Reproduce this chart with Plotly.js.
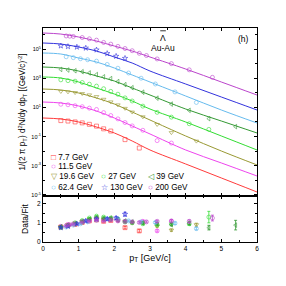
<!DOCTYPE html>
<html>
<head>
<meta charset="utf-8">
<script src="https://cdn.plot.ly/plotly-3.0.1.min.js"></script>
<style>html,body{margin:0;padding:0;background:#fff;}#chart{width:286px;height:286px;}</style>
</head>
<body>
<div id="chart"></div>
<script>
// ---- data ----
const energyNames = ['7.7 GeV','11.5 GeV','19.6 GeV','27 GeV','39 GeV','62.4 GeV','130 GeV','200 GeV'];
const colors = ['#ff3b3b','#ee44ee','#999933','#33dd33','#339933','#66bbee','#3333dd','#bb44cc'];
const symbols = ['square-open','circle-open','triangle-down-open','circle-open','triangle-left-open','circle-open','star-open','circle-open'];
const legendGlyphs = ['\u25A1','\u25CB','\u25BD','\u25CB','\u25C1','\u25CB','\u2606','\u25CB'];
const yTickVals = [1e-5, 1e-3, 1e-1, 1e1, 1e3, 1e5];
const yTickText = ['10<sup>-5</sup>','10<sup>-3</sup>','10<sup>-1</sup>','10<sup>1</sup>','10<sup>3</sup>','10<sup>5</sup>'];

// fit curves (read at these pT)
const pTFit = [0, 0.5, 1, 1.5, 2, 2.5, 3, 4, 5, 6];
const fit77  = [1.88, 1.60, 1.0, 0.455, 0.177, 0.050, 0.0121, 1.33e-3, 1.46e-4, 1.60e-5];
const fit115 = [23.4, 20.0, 12.5, 5.66, 1.88, 0.532, 0.151, 0.0121, 1.56e-3, 2.0e-4];
const fit196 = [182, 156, 96.8, 44.1, 17.1, 4.84, 1.37, 0.110, 0.0103, 1.14e-3];
const fit27  = [1210, 1030, 550, 213, 82.8, 27.4, 7.76, 1.0, 0.110, 0.0121];
const fit39  = [5850, 5000, 3110, 1420, 643, 213, 70.6, 7.76, 1.17, 0.177];
const fit624 = [5.32e4, 4.55e4, 2.42e4, 1.29e4, 5.00e3, 1.66e3, 550, 60.4, 6.64, 0.855];
const fit130 = [2.58e5, 2.20e5, 1.37e5, 7.29e4, 2.83e4, 1.10e4, 3110, 401, 51.5, 6.64];
const fit200 = [1.25e6, 1.06e6, 6.64e5, 3.53e5, 1.60e5, 7.29e4, 2.83e4, 4270, 550, 70.6];

// spectra points
const pt77   = [0.5,0.7,0.9,1.1,1.3,1.5,1.7,1.9,2.3,2.7];
const spec77 = [1.25,1.16,1.01,0.87,0.69,0.52,0.34,0.24,0.062,0.0164];
const rat77  = [0.78,0.87,0.92,1.02,1.1,1.15,1.08,1.12,0.75,0.58];
const err77  = [0.04,0.04,0.04,0.04,0.04,0.05,0.05,0.05,0.06,0.07];

const pt115   = [0.5,0.7,0.9,1.1,1.3,1.5,1.7,1.9,2.1,2.3,2.5,2.8,3.2,3.6];
const spec115 = [16.4,15.2,13.0,11.2,8.9,7.2,4.4,2.77,1.63,0.92,0.54,0.27,0.053,0.036];
const rat115  = [0.82,0.92,0.95,1.05,1.15,1.28,1.22,1.18,1.12,1.05,1.02,1.08,0.58,1.08];
const err115  = [0.03,0.03,0.03,0.03,0.04,0.04,0.04,0.04,0.05,0.05,0.05,0.06,0.06,0.08];

const pt196   = [0.5,0.7,0.9,1.1,1.3,1.5,1.7,1.9,2.1,2.3,2.5,2.8,3.2,3.6,4.3];
const spec196 = [124,116,104,89,72,55,36,23.8,14.9,8.6,4.8,2.27,0.68,0.187,0.049];
const rat196  = [0.8,0.9,0.98,1.08,1.2,1.25,1.2,1.15,1.12,1.08,1.0,1.0,0.82,0.62,0.9];
const err196  = [0.03,0.03,0.03,0.03,0.03,0.04,0.04,0.04,0.04,0.04,0.05,0.05,0.05,0.06,0.08];

const pt27   = [0.5,0.7,0.9,1.1,1.3,1.5,1.7,1.9,2.1,2.3,2.5,2.8,3.2,3.6,4.1,4.65];
const spec27 = [774,682,624,509,389,288,190,125,80,44.8,27.4,12.2,4.6,2.16,0.76,0.31];
const rat27  = [0.75,0.85,1.0,1.12,1.25,1.35,1.3,1.25,1.2,1.05,1.0,0.95,0.9,0.95,0.95,1.3];
const err27  = [0.03,0.03,0.03,0.03,0.03,0.04,0.04,0.04,0.04,0.04,0.05,0.05,0.05,0.06,0.08,0.3];

const pt39   = [0.5,0.7,0.9,1.1,1.3,1.5,1.7,1.9,2.1,2.3,2.5,2.8,3.2,3.6,4.1,4.65,5.4];
const spec39 = [4000,3640,3250,2790,2290,1770,1240,942,593,365,224,110,43,16.9,6.3,1.70,0.48];
const rat39  = [0.8,0.88,0.95,1.05,1.18,1.25,1.2,1.25,1.15,1.1,1.05,1.0,0.95,0.9,0.98,0.75,0.88];
const err39  = [0.03,0.03,0.03,0.03,0.03,0.03,0.04,0.04,0.04,0.04,0.04,0.05,0.05,0.06,0.07,0.12,0.25];

const pt624   = [0.65,0.85,1.05,1.25,1.5,1.8,2.1,2.4,2.75,3.15,3.7,4.3];
const spec624 = [29400,25700,21600,18500,14800,8750,4810,2270,1000,403,115,21.8];
const rat624  = [0.78,0.88,0.95,1.05,1.15,1.2,1.2,1.1,1.05,1.02,0.98,0.7];
const err624  = [0.03,0.03,0.03,0.03,0.04,0.04,0.04,0.04,0.05,0.05,0.06,0.07];

const pt130   = [0.5,0.7,0.95,1.2,1.5,1.8,2.05,2.3];
const spec130 = [1.65e5,1.49e5,1.37e5,1.17e5,8.75e4,4.95e4,3.22e4,2.32e4];
const rat130  = [0.75,0.82,0.95,1.1,1.2,1.2,1.25,1.45];
const err130  = [0.04,0.04,0.04,0.05,0.05,0.06,0.07,0.1];

const pt200   = [0.65,0.75,0.85,1.1,1.3,1.5,1.7,1.9,2.1,2.3,2.5,2.7,2.9,3.2,3.6,4.1,4.75];
const spec200 = [7.87e5,7.57e5,7.28e5,6.14e5,5.0e5,4.06e5,2.83e5,2.16e5,1.51e5,1.08e5,7.66e4,5.11e4,3.59e4,2.09e4,1.0e4,3750,1150];
const rat200  = [0.85,0.9,0.95,1.05,1.1,1.15,1.1,1.15,1.1,1.08,1.05,1.02,1.05,1.08,1.1,1.08,1.25];
const err200  = [0.03,0.03,0.03,0.03,0.03,0.03,0.03,0.04,0.04,0.04,0.04,0.04,0.05,0.05,0.06,0.07,0.15];

const allFits = [fit77,fit115,fit196,fit27,fit39,fit624,fit130,fit200];
const allPt   = [pt77,pt115,pt196,pt27,pt39,pt624,pt130,pt200];
const allSpec = [spec77,spec115,spec196,spec27,spec39,spec624,spec130,spec200];
const allRat  = [rat77,rat115,rat196,rat27,rat39,rat624,rat130,rat200];
const allErr  = [err77,err115,err196,err27,err39,err624,err130,err200];

// ---- traces ----
const traces = [];
for (let i = 0; i < energyNames.length; i++) {
  traces.push({x: pTFit, y: allFits[i], xaxis:'x2', yaxis:'y2', mode:'lines',
    line:{color:colors[i], width:1, shape:'spline'}, name: energyNames[i]+' fit', hoverinfo:'skip'});
}
for (let i = 0; i < energyNames.length; i++) {
  traces.push({x: allPt[i], y: allSpec[i], xaxis:'x2', yaxis:'y2', mode:'markers', name: energyNames[i],
    marker:{symbol:symbols[i], size:4, color:colors[i], opacity:0.6, line:{width:1}}});
  traces.push({x: allPt[i], y: allRat[i], xaxis:'x', yaxis:'y', mode:'markers', name: energyNames[i]+' Data/Fit',
    error_y:{type:'data', array: allErr[i], color:colors[i], thickness:0.8, width:1.5},
    marker:{symbol:symbols[i], size:4, color:colors[i], opacity:0.6, line:{width:1}}});
}

// ---- legend as text ----
const legPos = [[0.026,0.397],[0.026,0.355],[0.026,0.304],[0.264,0.304],[0.479,0.304],[0.026,0.255],[0.264,0.255],[0.479,0.255]];
const annotations = [];
for (let i = 0; i < energyNames.length; i++) {
  annotations.push({xref:'paper', yref:'paper', x:legPos[i][0], y:legPos[i][1], xanchor:'left', yanchor:'middle',
    showarrow:false, font:{size:8.2, color:'#000'},
    text:'<span style="color:'+colors[i]+'">'+legendGlyphs[i]+'</span> '+energyNames[i]});
}
annotations.push({xref:'paper', yref:'paper', x:0.561, y:0.955, xanchor:'center', yanchor:'middle', showarrow:false,
  font:{size:8.5}, text:'\u039B'});
annotations.push({xref:'paper', yref:'paper', x:0.561, y:0.905, xanchor:'center', yanchor:'middle', showarrow:false,
  font:{size:8.5}, text:'Au-Au'});
annotations.push({xref:'paper', yref:'paper', x:0.97, y:0.95, xanchor:'right', yanchor:'middle', showarrow:false,
  font:{size:8.5}, text:'(h)'});

const axBase = {showline:true, linecolor:'#000', linewidth:1, mirror:'ticks', ticks:'inside', ticklen:3,
  tickcolor:'#000', showgrid:false, zeroline:false};

const layout = {
  width:286, height:286,
  margin:{l:43, r:29, t:28, b:44},
  paper_bgcolor:'#fff', plot_bgcolor:'#fff',
  showlegend:false,
  font:{family:'Liberation Sans, Arial, Helvetica, sans-serif', size:8, color:'#000'},
  xaxis: Object.assign({}, axBase, {anchor:'y', domain:[0,1], range:[0,6], dtick:1, tickfont:{size:6.5},
    minor:{dtick:0.5, ticks:'inside', ticklen:2, tickcolor:'#000'},
    title:{text:'p<sub>T</sub> [GeV/c]', font:{size:9}, standoff:3}}),
  yaxis: Object.assign({}, axBase, {anchor:'x', domain:[0,0.215], range:[0,2.4], dtick:1, tickfont:{size:6.5},
    minor:{dtick:0.5, ticks:'inside', ticklen:2, tickcolor:'#000'},
    title:{text:'Data/Fit', font:{size:8.5}, standoff:7}}),
  xaxis2: Object.assign({}, axBase, {anchor:'y2', domain:[0,1], range:[0,6], dtick:1, showticklabels:false,
    minor:{dtick:0.5, ticks:'inside', ticklen:2, tickcolor:'#000'}}),
  yaxis2: Object.assign({}, axBase, {anchor:'x2', domain:[0.215,1], type:'log', range:[-5.07,6.44],
    tickmode:'array', tickvals:yTickVals, ticktext:yTickText, tickfont:{size:5.5},
    minor:{dtick:1, ticks:'inside', ticklen:2, tickcolor:'#000'},
    title:{text:'1/(2 \u03C0 p<sub>T</sub>) d<sup>2</sup>N/dy dp<sub>T</sub> [(GeV/c)<sup>-2</sup>]', font:{size:8.2}, standoff:4}}),
  shapes: [{type:'line', xref:'paper', yref:'paper', x0:0.548, x1:0.574, y0:0.987, y1:0.987, line:{color:'#000', width:0.8}}],
  annotations: annotations
};

Plotly.newPlot('chart', traces, layout, {staticPlot:true, displayModeBar:false});
</script>
</body>
</html>
